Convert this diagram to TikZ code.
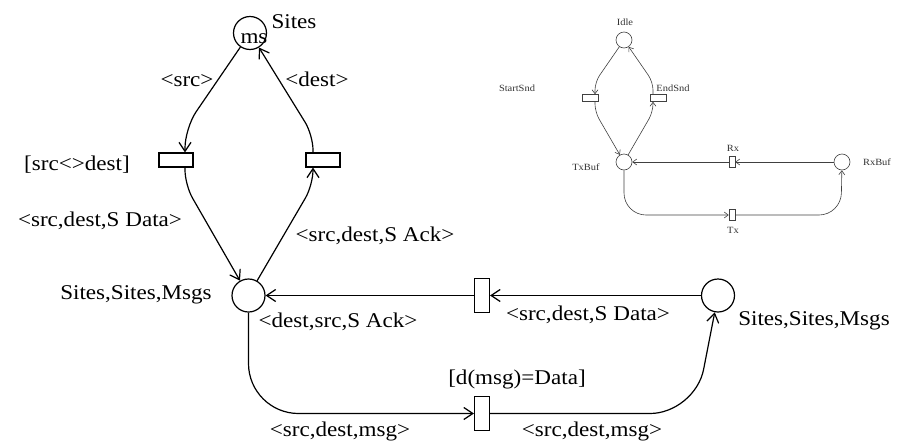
\documentclass[tikz,border=0pt]{standalone}
\usepackage{fontspec}
\setmainfont{Liberation Serif}[FakeStretch=1.1]
\usetikzlibrary{arrows.meta,calc}
\begin{document}
\begin{tikzpicture}[x=1pt,y=-1pt,
  place/.style={circle,draw,line width=1.2pt,minimum size=33pt,inner sep=0pt},
  trans/.style={rectangle,draw,line width=1.2pt,inner sep=0pt},
  hbar/.style={trans,minimum width=34pt,minimum height=14pt},
  vbar/.style={trans,minimum width=15pt,minimum height=34pt},
  arc/.style={line width=1.2pt,-{Straight Barb[length=9pt,width=12pt,line width=1.2pt]}},
  lbl/.style={font=\fontsize{21}{24}\selectfont,inner sep=0pt,anchor=base},
  splace/.style={circle,draw=black!75,line width=0.6pt,minimum size=16pt,inner sep=0pt},
  strans/.style={rectangle,draw=black!75,line width=0.6pt,inner sep=0pt},
  shbar/.style={strans,minimum width=16pt,minimum height=7pt},
  svbar/.style={strans,minimum width=6pt,minimum height=11pt},
  sarc/.style={draw=black!75,line width=0.6pt,-{Straight Barb[length=4pt,width=6pt,line width=0.6pt]}},
  slbl/.style={font=\fontsize{9.5}{11}\selectfont,text=black!80,inner sep=0pt,anchor=base}
]
\useasboundingbox (0,0) rectangle (906,445);

% ---------- main net ----------
\node[place] (ms) at (250,33) {};
\node[lbl] (mstext) at (254,43) {ms};
\node[lbl] (sitesl) at (294,28) {Sites};
\node[hbar] (tl) at (176,160) {};
\node[hbar] (tr) at (323,160) {};
\node[place] (p2) at (248.5,295.5) {};
\node[vbar] (rx) at (482,295.5) {};
\node[place] (p3) at (718,295.5) {};
\node[vbar] (tx) at (482,413.5) {};

\node[lbl] (l1) at (187,86) {<src>};
\node[lbl] (l2) at (317,86) {<dest>};
\node[lbl] (l3) at (77,170) {[src<>dest]};
\node[lbl] (l4) at (100,226) {<src,dest,S Data>};
\node[lbl] (l5) at (375,241) {<src,dest,S Ack>};
\node[lbl] (l6) at (136,299) {Sites,Sites,Msgs};
\node[lbl] (l7) at (338,327) {<dest,src,S Ack>};
\node[lbl] (l8) at (588,320) {<src,dest,S Data>};
\node[lbl] (l9) at (814,325) {Sites,Sites,Msgs};
\node[lbl] (l10) at (517,384) {[d(msg)=Data]};
\node[lbl] (l11) at (340,436) {<src,dest,msg>};
\node[lbl] (l12) at (592,436) {<src,dest,msg>};

\draw[arc,rounded corners=20pt] (ms) -- (185,128) -- ($(tl.north)+(9,0)$);
\draw[arc,rounded corners=15pt] ($(tl.south)+(9,0)$) -- (185,185) -- (p2);
\draw[arc,rounded corners=15pt] (p2) -- (313,185) -- ($(tr.south)+(-10,0)$);
\draw[arc,rounded corners=15pt] ($(tr.north)+(-10,0)$) -- (313,135) -- (ms);
\draw[arc] (p3) -- (rx);
\draw[arc] (rx) -- (p2);
\draw[arc,rounded corners=50pt] (p2.south) -- (248.5,413.5) -- (tx.west);
\draw[arc,rounded corners=45pt] (tx.east) -- (695,413.5) -- (p3);

% ---------- small net ----------
\node[splace] (idle) at (624,40) {};
\node[splace] (txbuf) at (624,162) {};
\node[splace] (rxbuf) at (842,162) {};
\node[shbar] (ss) at (590,98) {};
\node[shbar] (es) at (658,98) {};
\node[svbar] (rxt) at (732,162) {};
\node[svbar] (txt) at (732,215) {};

\node[slbl] (sl1) at (625,25) {Idle};
\node[slbl] (sl2) at (517,91) {StartSnd};
\node[slbl] (sl3) at (673,91) {EndSnd};
\node[slbl] (sl4) at (586,170) {TxBuf};
\node[slbl] (sl5) at (733,151) {Rx};
\node[slbl] (sl6) at (877,165) {RxBuf};
\node[slbl] (sl7) at (733,233) {Tx};

\draw[sarc,rounded corners=8pt] (idle) -- (595,82) -- ($(ss.north)+(5,0)$);
\draw[sarc,rounded corners=8pt] ($(ss.south)+(5,0)$) -- (595,112) -- (txbuf);
\draw[sarc,rounded corners=8pt] (txbuf) -- (653,112) -- ($(es.south)+(-5,0)$);
\draw[sarc,rounded corners=8pt] ($(es.north)+(-5,0)$) -- (653,82) -- (idle);
\draw[sarc] (rxbuf) -- (rxt);
\draw[sarc] (rxt) -- (txbuf);
\draw[sarc,rounded corners=22pt] (txbuf.south) -- (624,215) -- (txt.west);
\draw[sarc,rounded corners=22pt] (txt.east) -- (841,215) -- (rxbuf);
\end{tikzpicture}
\end{document}
